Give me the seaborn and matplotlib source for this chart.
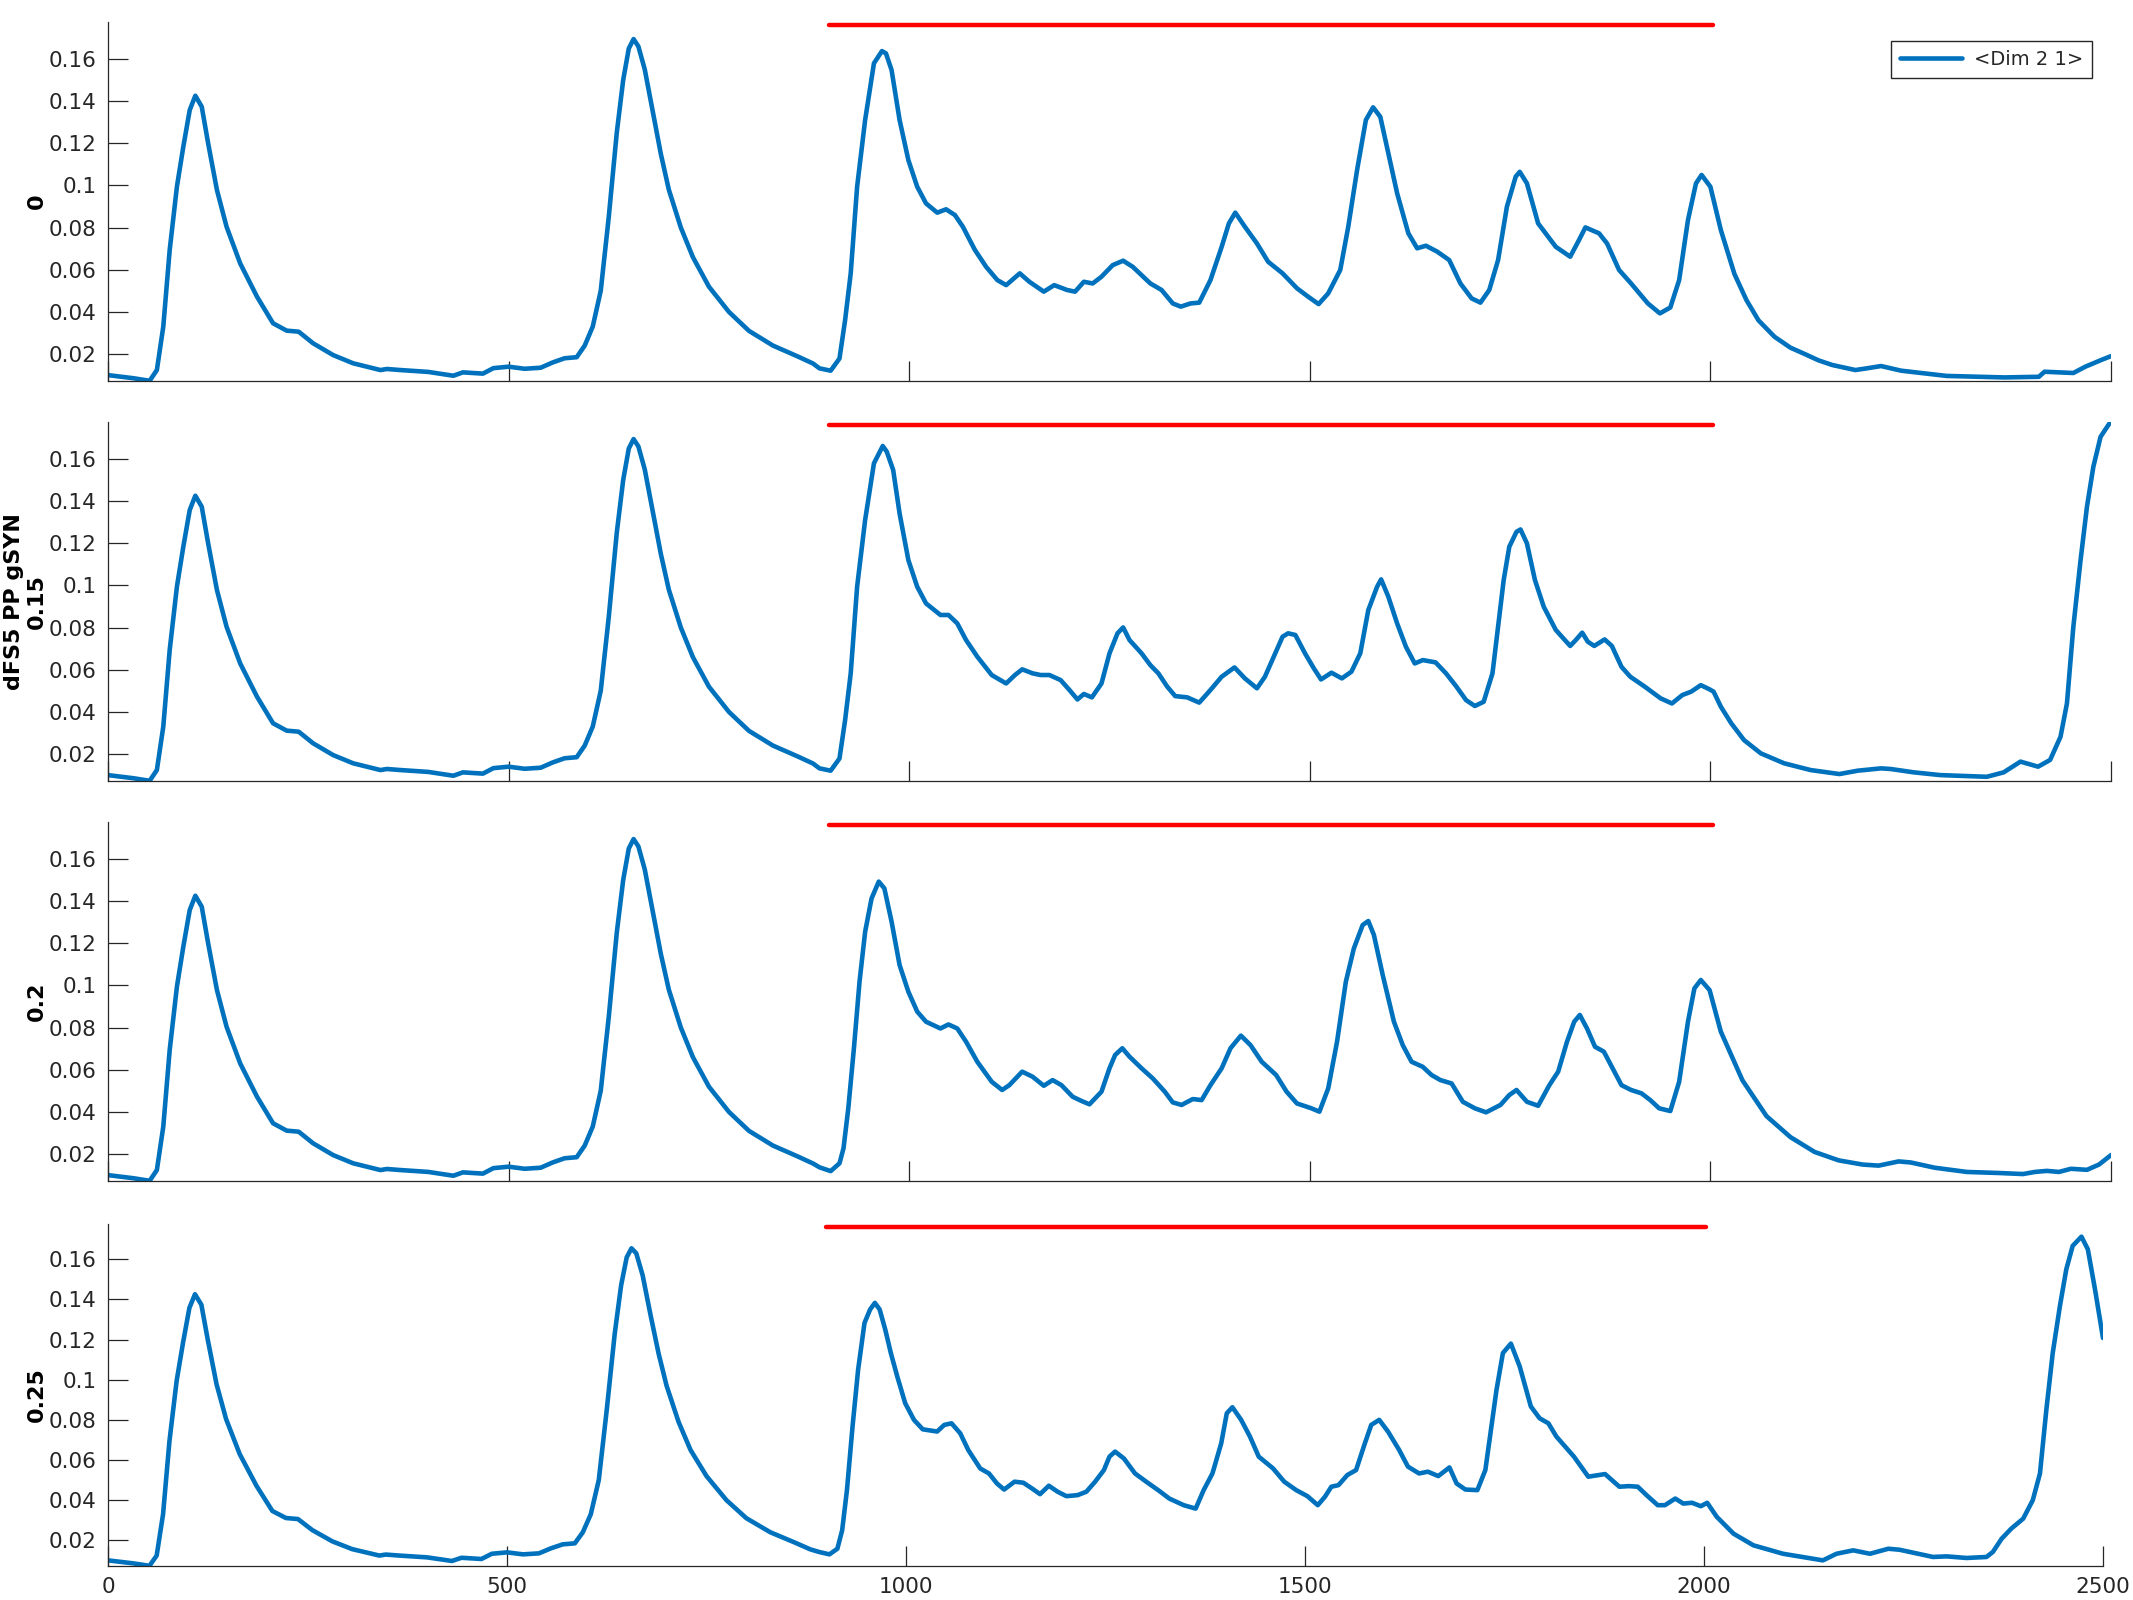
import matplotlib
matplotlib.use("Agg")
import pandas as pd
import seaborn as sns
import matplotlib.pyplot as plt

# ---- data (time, value) ----
# shared onset for the first three rows (0 - 880)
early = [(0, 0.0100), (32, 0.0085), (52, 0.0073), (61, 0.0124), (69, 0.033), (77, 0.0694),
         (86, 0.0994), (94, 0.1184), (102, 0.1358), (109, 0.1426), (117, 0.1374), (125, 0.1200),
         (136, 0.0978), (148, 0.0804), (165, 0.0630), (186, 0.0472), (206, 0.0346), (223, 0.0311),
         (238, 0.0306), (256, 0.0251), (281, 0.0195), (306, 0.0156), (340, 0.0124), (348, 0.0129),
         (365, 0.0124), (400, 0.0115), (431, 0.0097), (443, 0.0113), (468, 0.0107), (481, 0.0133),
         (500, 0.0140), (520, 0.0130), (540, 0.0135), (555, 0.0160), (570, 0.0180), (585, 0.0185),
         (595, 0.024), (605, 0.033), (615, 0.050), (625, 0.085), (635, 0.125), (643, 0.150),
         (650, 0.165), (656, 0.1695), (662, 0.166), (670, 0.155), (680, 0.135), (690, 0.115),
         (700, 0.098), (715, 0.080), (730, 0.066), (750, 0.052), (775, 0.040), (800, 0.031),
         (830, 0.024), (860, 0.019), (880, 0.0155)]

early_4 = [(0, 0.0100), (32, 0.0085), (52, 0.0073), (61, 0.0124), (69, 0.033), (77, 0.0694),
           (86, 0.0994), (94, 0.1184), (102, 0.1358), (109, 0.1426), (117, 0.1374), (125, 0.1200),
           (136, 0.0978), (148, 0.0804), (165, 0.0630), (186, 0.0472), (206, 0.0346), (223, 0.0311),
           (238, 0.0306), (256, 0.0251), (281, 0.0195), (306, 0.0156), (340, 0.0124), (348, 0.0129),
           (365, 0.0124), (400, 0.0115), (431, 0.0097), (443, 0.0113), (468, 0.0107), (481, 0.0133),
           (500, 0.0140), (520, 0.0130), (540, 0.0135), (555, 0.0160), (570, 0.0180), (585, 0.0185),
           (595, 0.024), (605, 0.033), (615, 0.050), (625, 0.085), (635, 0.123), (643, 0.147),
           (650, 0.161), (656, 0.1655), (662, 0.163), (670, 0.152), (680, 0.132), (690, 0.113),
           (700, 0.097), (715, 0.079), (730, 0.065), (750, 0.052), (775, 0.040), (800, 0.031),
           (830, 0.024), (860, 0.019), (880, 0.0155)]

rest_0 = [(888, 0.0132), (902, 0.0121), (913, 0.0179), (920, 0.0361), (927, 0.0583), (935, 0.0994),
          (945, 0.1311), (956, 0.158), (966, 0.1638), (971, 0.1627), (978, 0.1548), (988, 0.1311),
          (999, 0.112), (1010, 0.0994), (1021, 0.0915), (1035, 0.0871), (1046, 0.0887), (1057, 0.086),
          (1067, 0.0804), (1082, 0.0694), (1096, 0.0614), (1110, 0.0551), (1121, 0.0527), (1138, 0.0583),
          (1150, 0.0543), (1168, 0.0496), (1181, 0.0527), (1197, 0.0504), (1207, 0.0496), (1218, 0.0543),
          (1229, 0.0535), (1240, 0.0567), (1254, 0.0622), (1267, 0.0643), (1279, 0.0614), (1301, 0.0535),
          (1315, 0.0504), (1329, 0.044), (1339, 0.0425), (1351, 0.044), (1362, 0.0444), (1376, 0.0551),
          (1390, 0.0709), (1399, 0.082), (1407, 0.0871), (1419, 0.0804), (1434, 0.0725), (1448, 0.0638),
          (1466, 0.0583), (1484, 0.0512), (1498, 0.0472), (1511, 0.0437), (1523, 0.0488), (1538, 0.0599),
          (1548, 0.0804), (1559, 0.1073), (1570, 0.1311), (1579, 0.1371), (1588, 0.1326), (1598, 0.1152),
          (1609, 0.0963), (1623, 0.0773), (1634, 0.0702), (1645, 0.0714), (1659, 0.0686), (1674, 0.0646),
          (1688, 0.0535), (1702, 0.0464), (1713, 0.0444), (1724, 0.0504), (1735, 0.0646), (1746, 0.0899),
          (1757, 0.1042), (1762, 0.1065), (1771, 0.101), (1785, 0.082), (1807, 0.0709), (1825, 0.0662),
          (1836, 0.0741), (1844, 0.0801), (1861, 0.0773), (1871, 0.0725), (1886, 0.0599), (1901, 0.0535),
          (1922, 0.044), (1937, 0.0393), (1950, 0.0421), (1961, 0.0551), (1972, 0.0836), (1982, 0.101),
          (1989, 0.105), (2000, 0.0994), (2013, 0.0789), (2030, 0.058), (2045, 0.0456), (2060, 0.036),
          (2080, 0.0282), (2100, 0.023), (2116, 0.0203), (2135, 0.017), (2152, 0.0148), (2181, 0.0124),
          (2195, 0.0132), (2213, 0.0143), (2238, 0.0121), (2295, 0.0096), (2367, 0.0089), (2410, 0.0092),
          (2417, 0.0116), (2453, 0.011), (2468, 0.014), (2488, 0.0172), (2500, 0.019)]

rest_15 = [(888, 0.0132), (902, 0.0121), (913, 0.0179), (920, 0.0361), (927, 0.0583), (935, 0.0994),
           (945, 0.1311), (956, 0.158), (967, 0.1662), (972, 0.1635), (980, 0.1548), (988, 0.1342),
           (999, 0.112), (1010, 0.0994), (1021, 0.0915), (1039, 0.086), (1049, 0.086), (1060, 0.082),
           (1071, 0.0741), (1085, 0.0662), (1103, 0.0575), (1121, 0.0535), (1132, 0.0575), (1141, 0.0602),
           (1154, 0.0583), (1164, 0.0575), (1175, 0.0575), (1189, 0.0551), (1200, 0.0504), (1210, 0.0459),
           (1218, 0.0485), (1228, 0.0469), (1240, 0.0535), (1250, 0.0678), (1260, 0.0773), (1267, 0.0801),
           (1275, 0.0741), (1290, 0.0678), (1301, 0.0622), (1311, 0.0583), (1322, 0.052), (1332, 0.0475),
           (1347, 0.0469), (1362, 0.0444), (1376, 0.0504), (1390, 0.0567), (1406, 0.0611), (1419, 0.0559),
           (1434, 0.0512), (1444, 0.0567), (1455, 0.0662), (1466, 0.0757), (1473, 0.0773), (1482, 0.0765),
           (1494, 0.0678), (1505, 0.0607), (1514, 0.0554), (1527, 0.0586), (1540, 0.0559), (1552, 0.0591),
           (1563, 0.0678), (1573, 0.0883), (1584, 0.0994), (1589, 0.1029), (1598, 0.0947), (1609, 0.082),
           (1620, 0.0709), (1631, 0.063), (1641, 0.0646), (1657, 0.0635), (1670, 0.0583), (1683, 0.052),
           (1695, 0.0456), (1706, 0.0428), (1717, 0.0448), (1728, 0.0583), (1735, 0.0804), (1742, 0.1026),
           (1749, 0.1184), (1758, 0.1255), (1763, 0.1266), (1771, 0.12), (1781, 0.1026), (1792, 0.0899),
           (1807, 0.0789), (1825, 0.0713), (1832, 0.0741), (1840, 0.0776), (1847, 0.0733), (1855, 0.0713),
           (1868, 0.0744), (1877, 0.0713), (1889, 0.0614), (1900, 0.0567), (1918, 0.052), (1938, 0.0464),
           (1952, 0.044), (1965, 0.048), (1976, 0.0496), (1988, 0.0527), (1999, 0.0507), (2004, 0.0496),
           (2013, 0.0425), (2026, 0.0346), (2042, 0.0266), (2063, 0.0203), (2092, 0.0156), (2125, 0.0124),
           (2161, 0.0105), (2184, 0.0121), (2213, 0.0132), (2225, 0.0129), (2254, 0.0113), (2287, 0.0100),
           (2345, 0.0092), (2366, 0.0113), (2387, 0.0164), (2409, 0.0140), (2424, 0.0172), (2437, 0.0282),
           (2445, 0.044), (2453, 0.0804), (2462, 0.112), (2470, 0.1374), (2478, 0.1564), (2487, 0.1706),
           (2498, 0.1769)]

rest_2 = [(888, 0.0137), (902, 0.0119), (913, 0.0156), (918, 0.0227), (924, 0.0417), (931, 0.0702),
          (938, 0.1018), (945, 0.1255), (953, 0.1413), (962, 0.1493), (969, 0.1461), (978, 0.1303),
          (988, 0.1097), (999, 0.097), (1010, 0.0876), (1021, 0.0828), (1039, 0.0796), (1049, 0.0815),
          (1060, 0.0796), (1071, 0.0733), (1085, 0.0638), (1103, 0.0543), (1116, 0.0504), (1125, 0.0527),
          (1141, 0.0591), (1154, 0.0567), (1168, 0.0524), (1179, 0.0551), (1190, 0.0527), (1204, 0.0472),
          (1215, 0.0452), (1225, 0.0436), (1240, 0.0496), (1250, 0.0607), (1257, 0.067), (1266, 0.0702),
          (1275, 0.0662), (1290, 0.0607), (1304, 0.0559), (1319, 0.0496), (1329, 0.0445), (1340, 0.0433),
          (1354, 0.0461), (1365, 0.0456), (1376, 0.0527), (1390, 0.0607), (1401, 0.0702), (1414, 0.0762),
          (1426, 0.0717), (1440, 0.0638), (1458, 0.0575), (1471, 0.0496), (1484, 0.044), (1502, 0.0417),
          (1512, 0.0401), (1523, 0.0512), (1534, 0.0733), (1545, 0.1018), (1555, 0.1176), (1566, 0.1287),
          (1573, 0.1306), (1580, 0.124), (1591, 0.105), (1605, 0.0828), (1616, 0.0717), (1627, 0.0638),
          (1641, 0.0614), (1652, 0.0575), (1663, 0.0551), (1677, 0.0535), (1691, 0.0448), (1706, 0.0417),
          (1720, 0.0398), (1738, 0.0433), (1749, 0.048), (1758, 0.0504), (1771, 0.0448), (1785, 0.0429),
          (1799, 0.0527), (1810, 0.0591), (1821, 0.0733), (1830, 0.0828), (1837, 0.086), (1846, 0.0796),
          (1856, 0.0709), (1867, 0.0686), (1878, 0.0607), (1889, 0.0527), (1901, 0.0504), (1914, 0.0488),
          (1925, 0.0456), (1936, 0.0417), (1950, 0.0404), (1961, 0.0543), (1972, 0.0828), (1980, 0.0986),
          (1988, 0.1026), (1999, 0.0978), (2013, 0.0781), (2040, 0.055), (2070, 0.038), (2100, 0.028),
          (2130, 0.021), (2160, 0.017), (2190, 0.015), (2210, 0.0145), (2235, 0.0165), (2250, 0.016),
          (2280, 0.0135), (2320, 0.0115), (2360, 0.011), (2390, 0.0105), (2405, 0.0115), (2420, 0.012),
          (2435, 0.0115), (2450, 0.013), (2470, 0.0125), (2485, 0.015), (2500, 0.0195)]

rest_25 = [(891, 0.0142), (904, 0.013), (914, 0.0158), (920, 0.025), (926, 0.045), (933, 0.0767),
           (940, 0.105), (948, 0.1283), (955, 0.135), (961, 0.1383), (967, 0.135), (974, 0.125),
           (981, 0.1133), (989, 0.1017), (999, 0.0883), (1010, 0.08), (1021, 0.0753), (1039, 0.0742),
           (1048, 0.0775), (1057, 0.0783), (1068, 0.0733), (1078, 0.065), (1093, 0.0558), (1104, 0.0533),
           (1114, 0.0483), (1123, 0.0453), (1136, 0.0492), (1147, 0.0487), (1158, 0.0458), (1168, 0.043),
           (1179, 0.0472), (1190, 0.0442), (1201, 0.042), (1215, 0.0425), (1226, 0.0442), (1237, 0.0492),
           (1248, 0.055), (1255, 0.0617), (1262, 0.0642), (1273, 0.0608), (1287, 0.0533), (1301, 0.0492),
           (1316, 0.045), (1330, 0.0408), (1348, 0.0375), (1363, 0.0358), (1373, 0.045), (1384, 0.0533),
           (1395, 0.0683), (1402, 0.0833), (1409, 0.0863), (1420, 0.08), (1431, 0.0717), (1442, 0.0617),
           (1460, 0.0558), (1474, 0.0492), (1489, 0.045), (1503, 0.042), (1516, 0.0375), (1525, 0.0417),
           (1533, 0.0467), (1542, 0.0475), (1553, 0.0525), (1564, 0.055), (1575, 0.0683), (1583, 0.0775),
           (1593, 0.08), (1604, 0.0742), (1618, 0.065), (1629, 0.0567), (1643, 0.0533), (1654, 0.0542),
           (1667, 0.052), (1681, 0.0563), (1690, 0.0483), (1701, 0.0453), (1716, 0.045), (1726, 0.055),
           (1733, 0.075), (1740, 0.095), (1748, 0.1133), (1758, 0.118), (1769, 0.1067), (1783, 0.0867),
           (1794, 0.0808), (1805, 0.0783), (1815, 0.0717), (1826, 0.0667), (1837, 0.0617), (1855, 0.0517),
           (1876, 0.053), (1894, 0.0467), (1906, 0.047), (1917, 0.0467), (1928, 0.0425), (1942, 0.0375),
           (1951, 0.0375), (1964, 0.0408), (1974, 0.0383), (1985, 0.0387), (1996, 0.037), (2004, 0.0387),
           (2016, 0.0317), (2037, 0.0233), (2062, 0.0175), (2099, 0.0133), (2149, 0.0100), (2166, 0.0133),
           (2187, 0.0150), (2208, 0.0133), (2231, 0.0158), (2245, 0.0153), (2287, 0.0117), (2304, 0.0120),
           (2329, 0.0112), (2354, 0.0117), (2362, 0.0142), (2373, 0.0208), (2385, 0.0258), (2400, 0.0308),
           (2412, 0.040), (2421, 0.0533), (2429, 0.085), (2437, 0.1133), (2446, 0.1367), (2454, 0.155),
           (2462, 0.1667), (2473, 0.1713), (2481, 0.165), (2490, 0.145), (2500, 0.1208)]

series = [early + rest_0, early + rest_15, early + rest_2, early_4 + rest_25]
row_labels = ["0", "dFS5 PP gSYN\n0.15", "0.2", "0.25"]
legend_label = "<Dim 2 1>"

# red stimulus bar
bar_t = [900, 2003]
bar_level = 0.176

yticks = [0.02, 0.04, 0.06, 0.08, 0.10, 0.12, 0.14, 0.16]
ytick_labels = ["0.02", "0.04", "0.06", "0.08", "0.1", "0.12", "0.14", "0.16"]
xticks = [0, 500, 1000, 1500, 2000, 2500]
xtick_labels = ["0", "500", "1000", "1500", "2000", "2500"]

# ---- plotting ----
sns.set_style("ticks")
plt.rcParams["font.family"] = ["DejaVu Sans"]

BLUE = "#0072BD"
DARK = "#262626"
W, H = 2133, 1600

fig = plt.figure(figsize=(W / 100, H / 100), dpi=100)

# axes boxes in pixels: left, top, right, bottom
boxes = [(108, 22, 2111, 381), (108, 422, 2111, 781), (108, 822, 2111, 1181), (108, 1224, 2103, 1566)]

for i, (pts, box) in enumerate(zip(series, boxes)):
    l, t, r, b = box
    ax = fig.add_axes([l / W, 1 - b / H, (r - l) / W, (b - t) / H])
    df = pd.DataFrame(pts, columns=["t", "v"])
    bar = pd.DataFrame({"t": bar_t, "v": [bar_level] * len(bar_t)})

    sns.lineplot(data=bar, x="t", y="v", ax=ax, color="red", linewidth=3.2,
                 solid_capstyle="round")
    sns.lineplot(data=df, x="t", y="v", ax=ax, color=BLUE, linewidth=3.3,
                 solid_joinstyle="round",
                 label=legend_label if i == 0 else None, legend=False)

    ax.set_xlim(0, 2500)
    ax.set_ylim(0.0072, 0.1776)
    ax.set_yticks(yticks)
    ax.set_yticklabels(ytick_labels)
    ax.set_xticks(xticks)
    if i == 3:
        ax.set_xticklabels(xtick_labels)
    else:
        ax.set_xticklabels([])
    ax.tick_params(direction="in", length=14.5, width=0.9, colors=DARK,
                   labelsize=15.5, pad=8)
    for s in ["left", "bottom"]:
        ax.spines[s].set_linewidth(0.9)
        ax.spines[s].set_color(DARK)
    sns.despine(ax=ax)

    ax.set_xlabel("")
    ax.set_ylabel(row_labels[i], fontsize=16, fontweight="bold", color="black")
    ax.yaxis.set_label_coords(-0.0305, 0.5)

    if i == 0:
        leg = ax.legend(loc="upper right", frameon=True, fancybox=False,
                        edgecolor=DARK, framealpha=1, fontsize=14,
                        handlelength=3.2, handletextpad=0.6,
                        borderaxespad=1.0, borderpad=0.45)
        leg.get_frame().set_linewidth(1.0)

fig.savefig("out.png", dpi=100)
